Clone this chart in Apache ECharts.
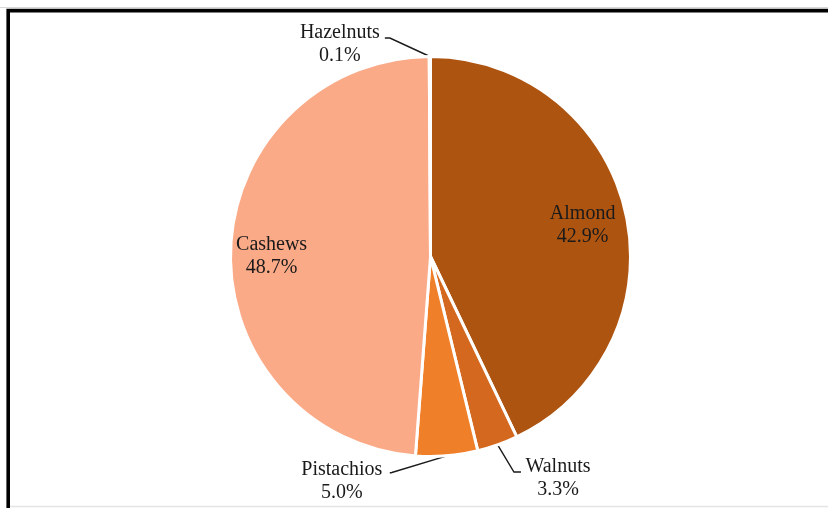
<!DOCTYPE html>
<html>
<head>
<meta charset="utf-8">
<title>Nut shares</title>
<script src="https://cdn.jsdelivr.net/npm/echarts@6/dist/echarts.min.js"></script>
<style>
  html, body { margin: 0; padding: 0; background: #ffffff; }
  #chart { width: 828px; height: 508px; }
</style>
</head>
<body>
<div id="chart"></div>
<script>
// Share of each nut (percent), drawn clockwise from 12 o'clock
const categories = ['Almond', 'Walnuts', 'Pistachios', 'Cashews', 'Hazelnuts'];
const shares = [42.9, 3.3, 5.0, 48.7, 0.1];
const sliceColors = ['#AE5411', '#D4681F', '#F07F29', '#FBAA88', '#F3C2A0'];
const insideLabels = ['Almond', 'Cashews'];

// Pie geometry
const CX = 430.5, CY = 256.5, R = 200;
const FONT = 'Liberation Serif, Times New Roman, serif';
const TEXT_COLOR = '#1a1a1a';

// Callout placement relative to each slice's outer edge point:
// elbow of the leader line, its end, and the label centre.
const callouts = {
  Hazelnuts:  { turn: [-40, -18.5], end: [-45, -18.5], label: [-90, -12.5] },
  Walnuts:    { turn: [16.3, 27.1], end: [23.3, 27.1], label: [60.3, 33.1] },
  Pistachios: { turn: [-55, 16.7],  end: [-57, 17.2],  label: [-105, 25.5] }
};
// Small nudges for the in-slice labels
const insideNudge = { Almond: [-1, 3], Cashews: [-2, 5] };

const total = shares.reduce((a, b) => a + b, 0);

// Point on the outer rim at the middle angle of a slice
function rimPoint(index) {
  let before = 0;
  for (let i = 0; i < index; i++) before += shares[i];
  const mid = (before + shares[index] / 2) / total * Math.PI * 2;
  return [CX + R * Math.sin(mid), CY - R * Math.cos(mid)];
}

const labelText = (p) => p.name + '\n' + p.value.toFixed(1) + '%';

const baseLabel = {
  fontFamily: FONT,
  fontSize: 20,
  lineHeight: 23,
  color: TEXT_COLOR
};

const mainData = categories.map((name, i) => ({
  name: name,
  value: shares[i],
  itemStyle: { color: sliceColors[i] },
  label: { show: insideLabels.indexOf(name) < 0 },
  labelLine: { show: insideLabels.indexOf(name) < 0 }
}));

const overlayData = categories.map((name, i) => ({
  name: name,
  value: shares[i],
  label: { show: insideLabels.indexOf(name) >= 0, offset: insideNudge[name] || [0, 0] }
}));

const chart = echarts.init(document.getElementById('chart'), null, { renderer: 'canvas' });

chart.setOption({
  backgroundColor: '#ffffff',
  animation: false,
  graphic: [
    {
      type: 'rect',
      shape: { x: 8.2, y: 10.6, width: 1200, height: 1200 },
      style: { fill: 'none', stroke: '#000000', lineWidth: 3.6 },
      silent: true
    },
    {
      type: 'line',
      shape: { x1: 0, y1: 7.5, x2: 828, y2: 7.5 },
      style: { stroke: '#d8d8d8', lineWidth: 1 },
      silent: true
    },
    {
      type: 'line',
      shape: { x1: 10, y1: 506.5, x2: 828, y2: 506.5 },
      style: { stroke: '#e4e4e4', lineWidth: 1.5 },
      silent: true
    }
  ],
  series: [
    {
      type: 'pie',
      center: [CX, CY],
      radius: [0, R],
      startAngle: 90,
      clockwise: true,
      avoidLabelOverlap: false,
      silent: true,
      itemStyle: { borderColor: '#ffffff', borderWidth: 3 },
      label: Object.assign({ position: 'outside', formatter: labelText, align: 'center' }, baseLabel),
      labelLine: { show: true, lineStyle: { color: TEXT_COLOR, width: 1.4 } },
      labelLayout: function (params) {
        const name = categories[params.dataIndex];
        const c = callouts[name];
        if (!c) return {};
        const a = rimPoint(params.dataIndex);
        return {
          x: a[0] + c.label[0],
          y: a[1] + c.label[1],
          align: 'center',
          verticalAlign: 'middle',
          labelLinePoints: [
            [a[0], a[1]],
            [a[0] + c.turn[0], a[1] + c.turn[1]],
            [a[0] + c.end[0], a[1] + c.end[1]]
          ]
        };
      },
      data: mainData
    },
    {
      // Transparent ring that carries the in-slice labels
      type: 'pie',
      center: [CX, CY],
      radius: [R * 0.54, R],
      startAngle: 90,
      clockwise: true,
      silent: true,
      z: 3,
      itemStyle: { color: 'rgba(0,0,0,0)', borderWidth: 0 },
      label: Object.assign({ position: 'inside', formatter: labelText }, baseLabel),
      labelLine: { show: false },
      emphasis: { disabled: true },
      data: overlayData
    }
  ]
});
</script>
</body>
</html>
